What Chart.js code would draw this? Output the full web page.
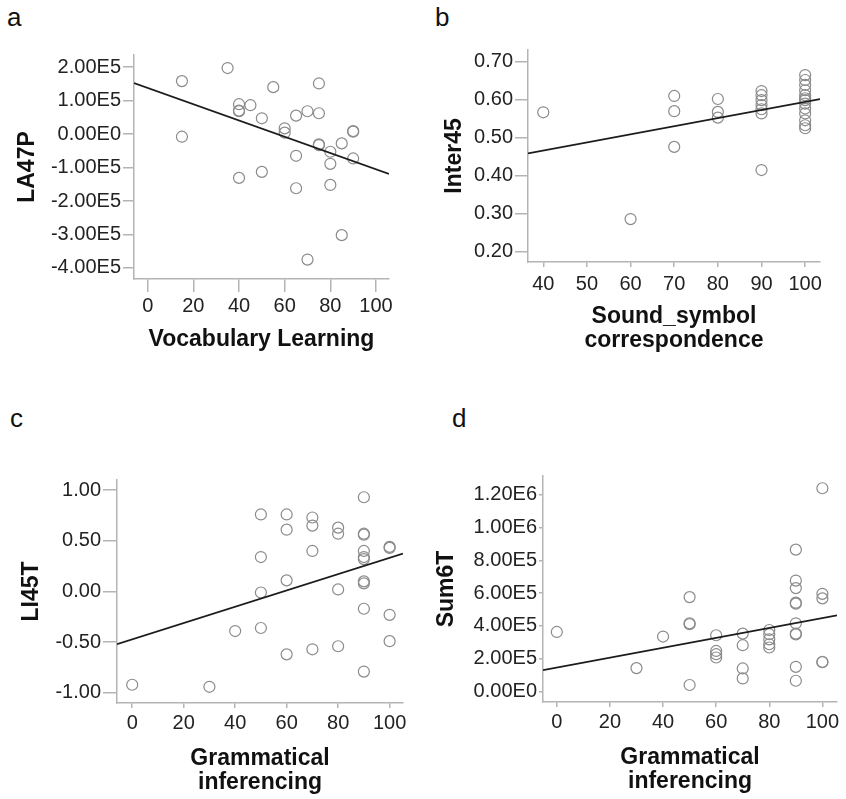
<!DOCTYPE html>
<html>
<head>
<meta charset="utf-8">
<script src="https://cdn.jsdelivr.net/npm/chart.js@4.4.1/dist/chart.umd.min.js"></script>
<style>
  html, body { margin: 0; padding: 0; background: #fff; }
  #page { position: relative; width: 846px; height: 799px; overflow: hidden; }
  canvas { position: absolute; }
  .tag { position: absolute; font: 26px "Liberation Sans", Arial, sans-serif; line-height: 26px; color: #111; }
</style>
</head>
<body>
<div id="page">
  <div class="tag" style="left:7px;top:4px">a</div>
  <div class="tag" style="left:435px;top:4px">b</div>
  <div class="tag" style="left:10px;top:405px">c</div>
  <div class="tag" style="left:452px;top:405px">d</div>
  <canvas id="chartA" width="420" height="360" style="left:0;top:0"></canvas>
  <canvas id="chartB" width="426" height="360" style="left:420px;top:0"></canvas>
  <canvas id="chartC" width="420" height="399" style="left:0;top:400px"></canvas>
  <canvas id="chartD" width="426" height="399" style="left:420px;top:400px"></canvas>
</div>
<script>
/* ── a: Vocabulary Learning vs LA47P ── */
const aX = [15, 15, 35, 40, 40, 40, 45, 50, 55, 40, 50, 60, 60, 65, 70, 75, 75, 65, 65, 75, 75, 80, 80, 80, 85, 90, 90, 90, 85, 70];
const aY = [158000, -8000, 197000, 89000, 68000, 70000, 86000, 47000, 140000, -131000, -113000, 17000, 4000, 55000, 68000,
            151000, 62000, -65000, -162000, -31000, -33000, -53000, -89000, -152000, -28000, 9000, 7000, -73000, -302000, -375000];
const aFitX = [-6, 105.7];
const aFitY = [152000, -119000];
const aXTicks = [0, 20, 40, 60, 80, 100];
const aYTicks = [-400000, -300000, -200000, -100000, 0, 100000, 200000];
const aYLabels = ['-4.00E5', '-3.00E5', '-2.00E5', '-1.00E5', '0.00E0', '1.00E5', '2.00E5'];

/* ── b: Sound_symbol correspondence vs Inter45 ── */
const bX = [40, 60, 70, 70, 70, 80, 80, 80, 90, 90, 90, 90, 90, 90, 90,
            100, 100, 100, 100, 100, 100, 100, 100, 100, 100, 100, 100, 100];
const bY = [0.567, 0.286, 0.610, 0.570, 0.476, 0.602, 0.568, 0.553, 0.623, 0.612, 0.599, 0.586, 0.575, 0.564, 0.415,
            0.665, 0.652, 0.639, 0.625, 0.612, 0.604, 0.599, 0.590, 0.577, 0.564, 0.546, 0.533, 0.525];
const bFitX = [36.5, 103.4];
const bFitY = [0.459, 0.602];
const bXTicks = [40, 50, 60, 70, 80, 90, 100];
const bYTicks = [0.2, 0.3, 0.4, 0.5, 0.6, 0.7];
const bYLabels = ['0.20', '0.30', '0.40', '0.50', '0.60', '0.70'];

/* ── c: Grammatical inferencing vs LI45T ── */
const cX = [0, 30, 40, 50, 50, 50, 50, 60, 60, 60, 60, 70, 70, 70, 70, 80, 80, 80, 80,
            90, 90, 90, 90, 90, 90, 90, 90, 90, 90, 100, 100, 100, 100];
const cY = [-0.92, -0.94, -0.39, 0.76, 0.34, -0.01, -0.36, 0.76, 0.61, 0.11, -0.62, 0.73, 0.65, 0.40, -0.57,
            0.63, 0.57, 0.02, -0.54, 0.93, 0.57, 0.56, 0.40, 0.34, 0.32, 0.10, 0.08, -0.17, -0.79, 0.44, 0.43, -0.23, -0.49];
const cFitX = [-5.9, 105.2];
const cFitY = [-0.52, 0.375];
const cXTicks = [0, 20, 40, 60, 80, 100];
const cYTicks = [-1, -0.5, 0, 0.5, 1];
const cYLabels = ['-1.00', '-0.50', '0.00', '0.50', '1.00'];

/* ── d: Grammatical inferencing vs Sum6T ── */
const dX = [0, 30, 40, 50, 50, 50, 50, 60, 60, 60, 60, 70, 70, 70, 70, 80, 80, 80, 80, 80,
            90, 90, 90, 90, 90, 90, 90, 90, 90, 90, 100, 100, 100, 100, 100];
const dY = [363000, 142000, 335000, 576000, 416000, 410000, 39000, 343000, 247000, 227000, 207000,
            353000, 282000, 140000, 79000, 375000, 349000, 318000, 288000, 268000,
            866000, 677000, 631000, 542000, 536000, 416000, 353000, 348000, 150000, 65000,
            1241000, 596000, 568000, 181000, 178000];
const dFitX = [-5.2, 105.5];
const dFitY = [130000, 465000];
const dXTicks = [0, 20, 40, 60, 80, 100];
const dYTicks = [0, 200000, 400000, 600000, 800000, 1000000, 1200000];
const dYLabels = ['0.00E0', '2.00E5', '4.00E5', '6.00E5', '8.00E5', '1.00E6', '1.20E6'];

const FONT = '"Liberation Sans", Arial, Helvetica, sans-serif';
const AXIS_GRAY = '#b4b4b4';

function makePanel(id, o) {
  new Chart(document.getElementById(id), {
    type: 'scatter',
    data: {
      datasets: [
        {
          data: o.xs.map((x, i) => ({ x: x, y: o.ys[i] })),
          pointRadius: 5.5,
          pointBorderWidth: 1.2,
          borderColor: '#8a8a8a',
          backgroundColor: 'rgba(0,0,0,0)',
          order: 2
        },
        {
          type: 'line',
          data: o.fitX.map((x, i) => ({ x: x, y: o.fitY[i] })),
          borderColor: '#1c1c1c',
          borderWidth: 1.8,
          pointRadius: 0,
          fill: false,
          order: 1
        }
      ]
    },
    options: {
      responsive: false,
      animation: false,
      devicePixelRatio: 1,
      layout: { padding: { top: o.top, right: o.right, left: 0, bottom: 0 } },
      plugins: { legend: { display: false }, tooltip: { enabled: false } },
      scales: {
        x: {
          type: 'linear',
          min: o.xMin, max: o.xMax,
          afterBuildTicks: s => { s.ticks = o.xTicks.map(v => ({ value: v })); },
          afterFit: s => { s.height = o.xH; },
          grid: { drawOnChartArea: false, drawTicks: true, tickLength: o.xTickLen, color: AXIS_GRAY, lineWidth: 1.5 },
          border: { display: true, color: AXIS_GRAY, width: 1.5 },
          ticks: {
            autoSkip: false, maxRotation: 0, padding: o.xTickPad, color: '#222',
            font: { family: FONT, size: 20 },
            callback: v => String(v)
          },
          title: {
            display: true, text: o.xTitle, color: '#111',
            font: { family: FONT, size: 23, weight: 'bold', lineHeight: 1.04 },
            padding: { top: 0, bottom: o.xTitlePad }
          }
        },
        y: {
          type: 'linear',
          min: o.yMin, max: o.yMax,
          afterBuildTicks: s => { s.ticks = o.yTicks.map(v => ({ value: v })); },
          afterFit: s => { s.width = o.yW; },
          grid: { drawOnChartArea: false, drawTicks: true, tickLength: o.yTickLen, color: AXIS_GRAY, lineWidth: 1.5 },
          border: { display: true, color: AXIS_GRAY, width: 1.5 },
          ticks: {
            autoSkip: false, padding: 2, color: '#222',
            font: { family: FONT, size: 20 },
            callback: (v, i) => o.yLabels[i]
          },
          title: {
            display: true, text: o.yTitle, color: '#111',
            font: { family: FONT, size: 23, weight: 'bold', lineHeight: 1.04 },
            padding: { top: o.yTitlePad, bottom: 0 }
          }
        }
      }
    }
  });
}

makePanel('chartA', {
  xs: aX, ys: aY, fitX: aFitX, fitY: aFitY,
  xMin: -6, xMax: 105.7, yMin: -433000, yMax: 236000,
  xTicks: aXTicks, yTicks: aYTicks, yLabels: aYLabels,
  top: 55, right: 31, yW: 134, xH: 81,
  xTickLen: 13, xTickPad: 2, yTickLen: 11,
  xTitle: 'Vocabulary Learning', xTitlePad: 8, yTitle: 'LA47P', yTitlePad: 16
});

makePanel('chartB', {
  xs: bX, ys: bY, fitX: bFitX, fitY: bFitY,
  xMin: 36.5, xMax: 103.4, yMin: 0.173, yMax: 0.731,
  xTicks: bXTicks, yTicks: bYTicks, yLabels: bYLabels,
  top: 50, right: 26, yW: 108, xH: 98,
  xTickLen: 5, xTickPad: 5, yTickLen: 13,
  xTitle: ['Sound_symbol', 'correspondence'], xTitlePad: 7.4, yTitle: 'Inter45', yTitlePad: 23
});

makePanel('chartC', {
  xs: cX, ys: cY, fitX: cFitX, fitY: cFitY,
  xMin: -5.9, xMax: 105.2, yMin: -1.10, yMax: 1.10,
  xTicks: cXTicks, yTicks: cYTicks, yLabels: cYLabels,
  top: 80, right: 17, yW: 117, xH: 96,
  xTickLen: 5, xTickPad: 3, yTickLen: 14,
  xTitle: ['Grammatical', 'inferencing'], xTitlePad: 4.1, yTitle: 'LI45T', yTitlePad: 20
});

makePanel('chartD', {
  xs: dX, ys: dY, fitX: dFitX, fitY: dFitY,
  xMin: -5.2, xMax: 105.5, yMin: -65000, yMax: 1316000,
  xTicks: dXTicks, yTicks: dYTicks, yLabels: dYLabels,
  top: 76, right: 9, yW: 123, xH: 97,
  xTickLen: 5, xTickPad: 3, yTickLen: 4,
  xTitle: ['Grammatical', 'inferencing'], xTitlePad: 5.1, yTitle: 'Sum6T', yTitlePad: 15
});
</script>
</body>
</html>
